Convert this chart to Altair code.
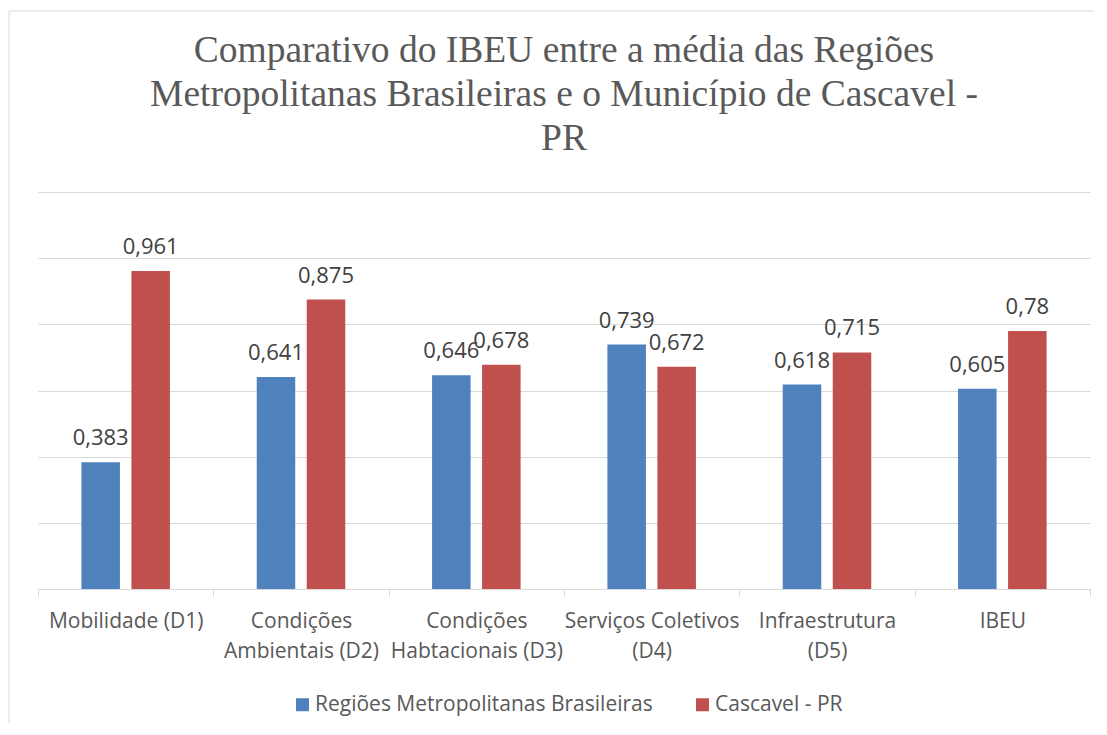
import altair as alt
import pandas as pd

categories = [
    "Mobilidade (D1)",
    "Condições|Ambientais (D2)",
    "Condições|Habtacionais (D3)",
    "Serviços Coletivos|(D4)",
    "Infraestrutura|(D5)",
    "IBEU",
]
series_names = ["Regiões Metropolitanas Brasileiras", "Cascavel - PR"]
rm_values = [0.383, 0.641, 0.646, 0.739, 0.618, 0.605]
cascavel_values = [0.961, 0.875, 0.678, 0.672, 0.715, 0.78]
grid_values = [0, 0.2, 0.4, 0.6, 0.8, 1.0, 1.2]
title_lines = [
    "Comparativo do IBEU entre a média das Regiões",
    "Metropolitanas Brasileiras e o Município de Cascavel -",
    "PR",
]
colors = ["#4F81BD", "#C0504D"]

rows = []
for c, a, b in zip(categories, rm_values, cascavel_values):
    for s, v in zip(series_names, [a, b]):
        rows.append({"cat": c, "serie": s, "v": v, "lbl": f"{v:g}".replace(".", ",")})
df = pd.DataFrame(rows)

FONT = "Open Sans"

x_enc = alt.X(
    "cat:N",
    sort=categories,
    scale=alt.Scale(paddingInner=0, paddingOuter=0),
    axis=alt.Axis(
        title=None,
        labelExpr="isString(datum.value) ? split(datum.value, '|') : ''",
        labelAngle=0,
        labelFont=FONT,
        labelFontSize=21,
        labelColor="#595959",
        labelLineHeight=30,
        labelPadding=14,
        tickBand="extent",
        tickSize=7,
        tickColor="#d9d9d9",
        domainColor="#d9d9d9",
        domainWidth=1,
        grid=False,
    ),
)
xoff = alt.XOffset(
    "serie:N",
    sort=series_names,
    scale=alt.Scale(domain=series_names, paddingInner=0.23, paddingOuter=0.868),
)
y_enc = alt.Y(
    "v:Q",
    scale=alt.Scale(domain=[0, 1.2], nice=False),
    axis=alt.Axis(
        title=None,
        values=grid_values,
        labels=False,
        ticks=False,
        domain=False,
        grid=True,
        gridColor="#d9d9d9",
        gridWidth=1,
    ),
)

bars = alt.Chart(df).mark_bar().encode(
    x=x_enc,
    xOffset=xoff,
    y=y_enc,
    color=alt.Color(
        "serie:N",
        scale=alt.Scale(domain=series_names, range=colors),
        legend=alt.Legend(
            title=None,
            orient="none",
            legendX=254,
            legendY=502,
            padding=0,
            direction="horizontal",
            symbolType="square",
            symbolSize=169,
            symbolStrokeWidth=0,
            labelFont=FONT,
            labelFontSize=21,
            labelColor="#595959",
            labelOffset=2,
            columnPadding=39,
            labelLimit=500,
        ),
    ),
)

labels = alt.Chart(df).mark_text(
    font=FONT, fontSize=22, color="#404040", baseline="alphabetic", dy=-17
).encode(
    x=alt.X("cat:N", sort=categories),
    xOffset=xoff,
    y=alt.Y("v:Q"),
    text="lbl:N",
)

border = alt.Chart(pd.DataFrame({"k": [0]})).mark_rect(
    fill=None, stroke="#d9d9d9", strokeWidth=1
).encode(
    x=alt.value(-29), x2=alt.value(1100), y=alt.value(-181), y2=alt.value(700)
)

chart = alt.layer(border, bars, labels).properties(
    width=1052,
    height=397,
    padding={"left": 30, "top": 184, "right": 4, "bottom": 134},
    autosize=alt.AutoSizeParams(type="none"),
    title=alt.TitleParams(
        text=title_lines,
        font="Liberation Serif",
        fontSize=37.5,
        fontWeight="normal",
        color="#595959",
        lineHeight=44,
        anchor="middle",
        offset=0,
        dy=147,
    ),
).configure_view(stroke=None)

chart.save("out.html", embed_options={"renderer": "svg", "actions": False})
